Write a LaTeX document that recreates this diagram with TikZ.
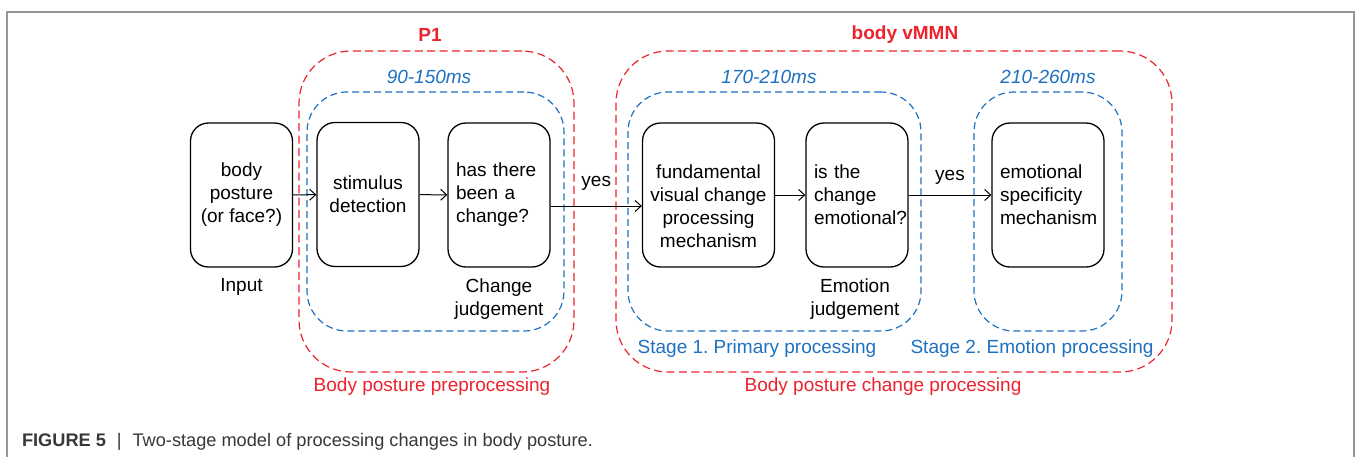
\documentclass[tikz,border=0pt]{standalone}
\usepackage{fontspec}
\setmainfont{Liberation Sans}
\usetikzlibrary{positioning,arrows.meta}
\definecolor{stagered}{RGB}{235,35,45}
\definecolor{stageblue}{RGB}{30,112,192}
\definecolor{framegray}{RGB}{150,150,150}
\definecolor{captiongray}{RGB}{55,55,55}
\newcommand{\figfont}{\fontsize{9.5}{11.5}\selectfont}
\frenchspacing

\begin{document}
\begin{tikzpicture}[
  x=0.5pt, y=-0.5pt,
  every node/.style={font=\figfont},
  box/.style={draw, line width=0.65pt, rounded corners=9pt, minimum width=51pt, minimum height=72pt,
              inner sep=4pt, align=center},
  qbox/.style={box, text width=43pt, align=left},
  phase/.style={draw=stagered, line width=0.6pt, dash pattern=on 4pt off 2.2pt, rounded corners=26pt,
                inner sep=0pt, outer sep=0pt, minimum height=160.5pt},
  window/.style={draw=stageblue, line width=0.6pt, dash pattern=on 3.5pt off 2pt, rounded corners=20pt,
                 inner sep=0pt, outer sep=0pt, minimum height=119.5pt},
  phasename/.style={text=stagered, font=\figfont\bfseries},
  phasenote/.style={text=stagered},
  timing/.style={text=stageblue, font=\figfont\itshape},
  stagenote/.style={text=stageblue},
  flow/.style={-{Straight Barb[length=3pt,width=5.5pt]}, line width=0.5pt}
]
  \useasboundingbox (0,0) rectangle (1356,457);
  \draw[framegray, line width=0.7pt] (7,457) -- (7,12) -- (1354,12) -- (1354,457);

  \node[phase, minimum width=137.5pt] (prezone) at (436.5,211.5) {};
  \node[phase, minimum width=278pt] (changezone) at (894,211.5) {};
  \node[window, minimum width=128.5pt] (earlywin) at (435.5,211.5) {};
  \node[window, minimum width=146.5pt] (primarywin) at (774.5,211.5) {};
  \node[window, minimum width=74pt] (emotionwin) at (1048,211.5) {};

  \node[phasename] (ponename) at (430,35) {P1};
  \node[phasename] (vmmnname) at (905,35) {body vMMN};
  \node[timing] (earlytime) at (429,77) {90-150ms};
  \node[timing] (primarytime) at (769,77) {170-210ms};
  \node[timing] (emotiontime) at (1048,77) {210-260ms};
  \node[phasenote] (prenote) at (432,387) {Body posture preprocessing};
  \node[phasenote] (changenote) at (883,387) {Body posture change processing};
  \node[stagenote] (stageone) at (757,349) {Stage 1. Primary processing};
  \node[stagenote] (stagetwo) at (1032,349) {Stage 2. Emotion processing};

  \node[box] (input) at (241.5,195) {body\\posture\\(or face?)};
  \node[box] (detect) at (368,194.5) {stimulus\\detection};
  \node[qbox] (change) at (499,195) {has there been a change?};
  \node[box, minimum width=66pt] (visual) at (708.5,195) {};
  \node[align=center] (visualtext) at ([yshift=-5.5pt]visual.center) {fundamental\\visual change\\processing\\mechanism};
  \node[qbox] (emotion) at (857,195) {is the\\change\\emotional?};
  \node[qbox, minimum width=56pt, text width=48pt] (specific) at (1048,195) {emotional\\specificity\\mechanism};

  \node[below=2pt of input] (inputname) {Input};
  \node[below=2pt of change, align=center] (changename) {Change\\judgement};
  \node[below=2pt of emotion, align=center, xshift=-1pt] (emotionname) {Emotion\\judgement};

  \draw[flow] (input) -- (detect);
  \draw[flow] (detect) -- (change);
  \draw[flow] ([yshift=-5.5pt]change.east) -- node[above=4pt]{yes} ([yshift=-5.5pt]visual.west);
  \draw[flow] (visual) -- (emotion);
  \draw[flow] (emotion) -- node[above=1.5pt]{yes} (specific);

  \node[anchor=west, text=captiongray, font=\fontsize{9.1}{11}\selectfont] (caption) at (15,442)
    {{\bfseries FIGURE 5}\hspace{0.6em}|\hspace{0.6em}Two-stage model of processing changes in body posture.};
\end{tikzpicture}
\end{document}
